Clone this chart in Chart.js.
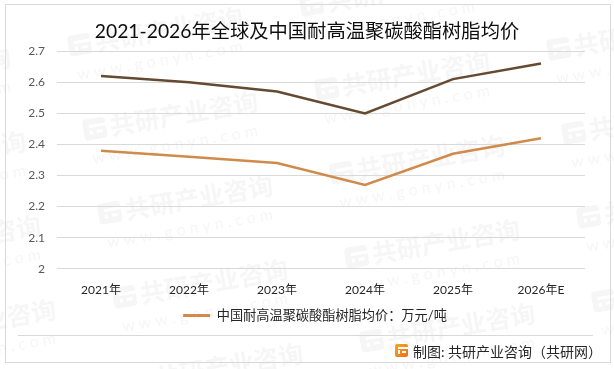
<!DOCTYPE html>
<html>
<head>
<meta charset="utf-8">
<style>
html, body { margin: 0; padding: 0; background: #fff; }
#wrap { width: 614px; height: 369px; }
</style>
<script src="https://cdn.jsdelivr.net/npm/chart.js@4/dist/chart.umd.min.js"></script>
</head>
<body>
<div id="wrap"><canvas id="chart" width="614" height="369"></canvas></div>
<script>
const years = ['2021年', '2022年', '2023年', '2024年', '2025年', '2026年E'];
const globalPrice = [2.62, 2.6, 2.57, 2.5, 2.61, 2.66];
const chinaPrice = [2.38, 2.36, 2.34, 2.27, 2.37, 2.42];
const titleText = '2021-2026年全球及中国耐高温聚碳酸酯树脂均价';
const chinaLabel = '中国耐高温聚碳酸酯树脂均价：万元/吨';
const globalLabel = '全球耐高温聚碳酸酯树脂均价：万元/吨';
const sourceText = '制图: 共研产业咨询（共研网）';
const markText = '共研产业咨询';
const markSite = 'w w w . g o n y n . c o m';

const FONT = 'Lato, "Noto Sans CJK SC", sans-serif';

// frame, footer and the faint repeated watermark behind the chart
const background = {
    id: 'background',
    afterLayout(chart) {
        // the legend sits a little right of the centre
        chart.legend.left += 16;
    },
    beforeDraw(chart) {
        const ctx = chart.ctx;
        ctx.save();
        ctx.fillStyle = '#fff';
        ctx.fillRect(0, 0, 614, 369);

        for (let i = -1; i < 4; i++) {
            for (let j = -2; j < 5; j++) {
                const x = 85 + i * 232 + j * 15;
                const y = 140 - i * 40 + j * 84;
                ctx.save();
                ctx.translate(x, y);
                ctx.rotate(-0.17);
                ctx.fillStyle = '#f6f6f6';
                ctx.beginPath();
                ctx.roundRect(0, -20, 23, 21, 4);
                ctx.fill();
                ctx.fillStyle = '#fff';
                ctx.fillRect(6, -14, 17, 3);
                ctx.fillRect(6, -8, 3, 4);
                ctx.fillRect(13, -8, 6, 3);
                ctx.fillStyle = '#f6f6f6';
                ctx.font = 'bold 25px "Noto Sans CJK SC"';
                ctx.textBaseline = 'alphabetic';
                ctx.fillText(markText, 27, 0);
                ctx.font = '16px Lato';
                ctx.fillText(markSite, 4, 25);
                ctx.restore();
            }
        }

        ctx.strokeStyle = '#d9d9d9';
        ctx.lineWidth = 1;
        ctx.strokeRect(5.5, 4.5, 605, 358);
        ctx.beginPath();
        ctx.moveTo(18, 335.5);
        ctx.lineTo(593, 335.5);
        ctx.stroke();

        // logo
        const grad = ctx.createLinearGradient(396, 345, 408, 358);
        grad.addColorStop(0, '#f7a21b');
        grad.addColorStop(1, '#ee6a1f');
        ctx.fillStyle = grad;
        ctx.beginPath();
        ctx.roundRect(395, 344, 13, 13, 2);
        ctx.fill();
        ctx.fillStyle = '#fff';
        ctx.fillRect(398, 347, 10, 2);
        ctx.fillRect(398, 350, 2, 4);
        ctx.fillRect(402, 351, 4, 2);

        ctx.fillStyle = '#262626';
        ctx.font = '14px ' + FONT;
        ctx.textBaseline = 'middle';
        ctx.fillText(sourceText, 413, 352);
        ctx.restore();
    }
};

new Chart(document.getElementById('chart'), {
    type: 'line',
    data: {
        labels: years,
        datasets: [
            {
                label: globalLabel,
                data: globalPrice,
                borderColor: '#654a31',
                backgroundColor: '#654a31',
                borderWidth: 2.5,
                pointRadius: 0,
                tension: 0
            },
            {
                label: chinaLabel,
                data: chinaPrice,
                borderColor: '#d08a4a',
                backgroundColor: '#d08a4a',
                borderWidth: 2.5,
                pointRadius: 0,
                tension: 0
            }
        ]
    },
    options: {
        responsive: false,
        animation: false,
        layout: { padding: { top: 0, right: 0, bottom: 37, left: 0 } },
        plugins: {
            tooltip: { enabled: false },
            title: {
                display: true,
                text: titleText,
                color: '#0d0d0d',
                font: { family: FONT, size: 19.3, weight: 'normal' },
                padding: { top: 20, bottom: 8 }
            },
            legend: {
                position: 'bottom',
                labels: {
                    filter: item => {
                        item.lineWidth = 0;
                        return item.text === chinaLabel;
                    },
                    color: '#262626',
                    font: { family: FONT, size: 13.2 },
                    boxWidth: 27,
                    boxHeight: 3,
                    padding: 3
                }
            }
        },
        scales: {
            x: {
                offset: true,
                afterFit(scale) { scale.height = 37; },
                grid: { display: false },
                border: { display: false },
                ticks: {
                    color: '#262626',
                    font: { family: FONT, size: 12 },
                    padding: 6,
                    maxRotation: 0
                }
            },
            y: {
                min: 2,
                max: 2.7,
                afterFit(scale) { scale.width = 57; },
                grid: { color: '#d9d9d9', drawTicks: false },
                border: { display: false },
                ticks: {
                    stepSize: 0.1,
                    callback: v => String(Math.round(v * 10) / 10),
                    color: '#595959',
                    font: { family: FONT, size: 12 },
                    padding: 12
                }
            },
            // empty axis that only keeps the right margin of the plot
            spacer: {
                position: 'right',
                afterFit(scale) { scale.width = 29; },
                grid: { display: false },
                border: { display: false },
                ticks: { display: false }
            }
        }
    },
    plugins: [background]
});
</script>
</body>
</html>
